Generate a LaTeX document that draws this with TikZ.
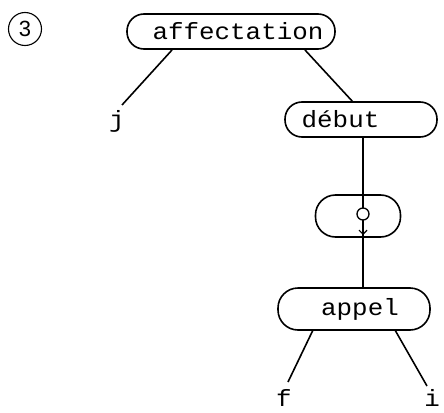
\documentclass[tikz,border=0pt]{standalone}
\usepackage{fontspec}
\setmainfont{Liberation Sans}
\newfontfamily\monofnt[FakeStretch=1.1]{Liberation Mono}
\usetikzlibrary{arrows.meta}
\tikzset{
  edge/.style={line width=1.6pt},
  pill/.style={draw, line width=1.6pt, rounded corners=17pt, minimum height=35pt, inner sep=0pt, font=\monofnt\fontsize{23.5}{26}\selectfont},
  leaf/.style={inner sep=0pt, font=\monofnt\fontsize{23.5}{26}\selectfont},
}
\begin{document}
\begin{tikzpicture}[x=1pt,y=-1pt]
\path[use as bounding box] (0,0) rectangle (444,412);
\node[inner sep=0pt, font=\fontsize{22}{24}\selectfont] (num) at (25,29) {3};
\draw[line width=1.1pt] (num.center) circle[radius=16.5pt];
\node[pill, minimum width=208pt] (aff) at (231,31.5) {\hspace{14pt}affectation};
\node[pill, minimum width=152pt] (deb) at (361,119.5) {début\kern41pt\relax};
\node[pill, minimum width=85pt, minimum height=42pt, rounded corners=20pt] (mid) at (358,216) {};
\node[pill, minimum width=152pt, minimum height=42pt, rounded corners=20pt] (app) at (354,309) {\hspace{12pt}appel};
\node[leaf] (j) at (117,121) {j};
\node[leaf] (f) at (284,398) {f};
\node[leaf] (i) at (432,398) {i};
\coordinate (aj) at (172,50);
\coordinate (ad) at (305,50);
\coordinate (jt) at (122,105);
\coordinate (dt) at (353,102);
\draw[edge] (aj) -- (jt);
\draw[edge] (ad) -- (dt);
\coordinate (vtop) at (363,137);
\coordinate (vbot) at (363,288);
\draw[edge] (vtop) -- (vbot);
\node[draw, circle, line width=1.3pt, minimum width=11pt, minimum height=12pt, inner sep=0pt, fill=white] (phi) at (363,214) {};
\coordinate (tipA) at (363,222);
\coordinate (tipB) at (363,235);
\draw[line width=1.2pt, -{Straight Barb[length=4pt,width=8pt]}] (tipA) -- (tipB);
\coordinate (af) at (313,330);
\coordinate (fb) at (288,382);
\coordinate (ai) at (395,330);
\coordinate (ib) at (427,386);
\draw[edge] (af) -- (fb);
\draw[edge] (ai) -- (ib);
\end{tikzpicture}
\end{document}
